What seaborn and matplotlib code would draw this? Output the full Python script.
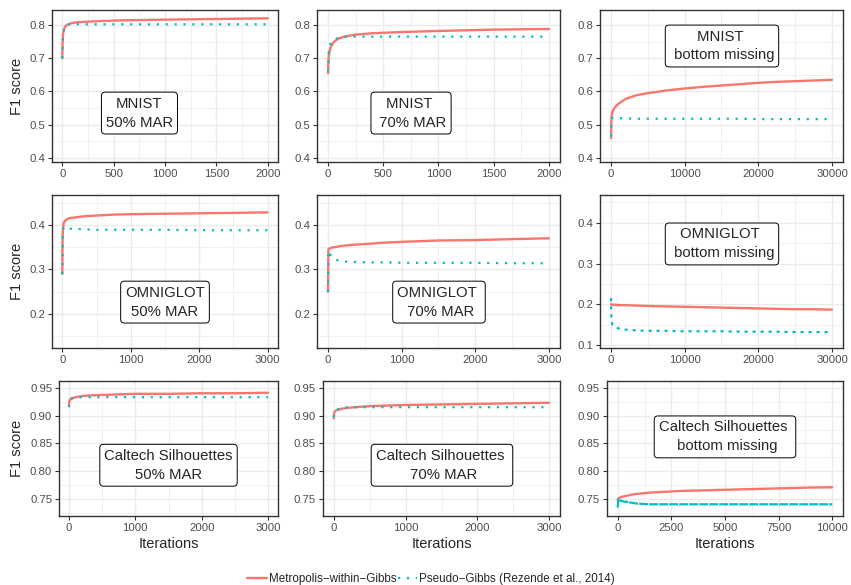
import matplotlib
matplotlib.use("Agg")
import matplotlib.pyplot as plt
from matplotlib.lines import Line2D
import seaborn as sns

# ---------------- data ----------------
method_names = ["Metropolis\u2212within\u2212Gibbs", "Pseudo\u2212Gibbs (Rezende et al., 2014)"]

# iteration grids
iters_2000 = [0, 5, 10, 20, 30, 50, 75, 100, 150, 250, 400, 600, 800, 1000, 1250, 1500, 1750, 2000]
iters_3000 = [0, 5, 10, 20, 30, 50, 75, 100, 150, 200, 300, 500, 750, 1000, 1500, 2000, 2500, 3000]
iters_30000 = [0, 50, 100, 200, 500, 1000, 2000, 3500, 5000, 7500, 10000, 12500, 15000, 17500,
               20000, 22500, 25000, 27500, 30000]
iters_10000 = [0, 25, 100, 250, 500, 750, 1000, 1500, 2000, 2500, 3000, 4000, 5000, 6000, 7000,
               7500, 8000, 9000, 10000]

# MNIST
mnist50_mwg = [0.700, 0.760, 0.778, 0.790, 0.796, 0.801, 0.804, 0.806, 0.808, 0.810, 0.812, 0.814,
               0.815, 0.816, 0.817, 0.818, 0.819, 0.820]
mnist50_pg = [0.700, 0.755, 0.775, 0.790, 0.797, 0.801, 0.802, 0.802, 0.802, 0.802, 0.802, 0.802,
              0.802, 0.802, 0.802, 0.802, 0.802, 0.802]
mnist70_mwg = [0.655, 0.700, 0.715, 0.728, 0.737, 0.748, 0.755, 0.760, 0.765, 0.771, 0.775, 0.778,
               0.780, 0.782, 0.784, 0.786, 0.787, 0.788]
mnist70_pg = [0.660, 0.715, 0.730, 0.742, 0.748, 0.754, 0.759, 0.762, 0.764, 0.765, 0.765, 0.765,
              0.765, 0.765, 0.765, 0.765, 0.765, 0.765]
mnistbm_mwg = [0.460, 0.515, 0.530, 0.540, 0.552, 0.563, 0.578, 0.589, 0.595, 0.603, 0.609, 0.614,
               0.618, 0.622, 0.626, 0.629, 0.631, 0.633, 0.635]
mnistbm_pg = [0.465, 0.515, 0.520, 0.521, 0.521, 0.520, 0.519, 0.518, 0.518, 0.518, 0.518, 0.518,
              0.518, 0.518, 0.517, 0.517, 0.517, 0.517, 0.517]

# OMNIGLOT
omni50_mwg = [0.290, 0.370, 0.392, 0.403, 0.407, 0.411, 0.413, 0.415, 0.416, 0.417, 0.419, 0.421,
              0.423, 0.424, 0.425, 0.426, 0.427, 0.428]
omni50_pg = [0.290, 0.365, 0.385, 0.394, 0.396, 0.395, 0.393, 0.392, 0.391, 0.391, 0.390, 0.389,
             0.389, 0.389, 0.389, 0.388, 0.388, 0.388]
omni70_mwg = [0.250, 0.345, 0.346, 0.347, 0.348, 0.349, 0.350, 0.350, 0.352, 0.353, 0.355, 0.357,
              0.360, 0.362, 0.365, 0.366, 0.368, 0.370]
omni70_pg = [0.250, 0.340, 0.342, 0.338, 0.334, 0.329, 0.325, 0.322, 0.320, 0.318, 0.317, 0.316,
             0.316, 0.315, 0.315, 0.315, 0.314, 0.314]
omnibm_mwg = [0.200, 0.200, 0.199, 0.199, 0.199, 0.198, 0.198, 0.197, 0.196, 0.195, 0.194, 0.193,
              0.192, 0.191, 0.190, 0.189, 0.188, 0.188, 0.187]
omnibm_pg = [0.215, 0.160, 0.155, 0.150, 0.145, 0.141, 0.138, 0.136, 0.135, 0.135, 0.134, 0.134,
             0.134, 0.133, 0.133, 0.133, 0.132, 0.132, 0.132]

# Caltech Silhouettes
caltech50_mwg = [0.919, 0.925, 0.927, 0.929, 0.930, 0.931, 0.932, 0.933, 0.934, 0.935, 0.936, 0.937,
                 0.938, 0.939, 0.939, 0.940, 0.940, 0.941]
caltech50_pg = [0.915, 0.924, 0.927, 0.929, 0.930, 0.931, 0.932, 0.932, 0.933, 0.933, 0.933, 0.933,
                0.933, 0.933, 0.933, 0.933, 0.933, 0.933]
caltech70_mwg = [0.895, 0.903, 0.906, 0.908, 0.909, 0.910, 0.911, 0.912, 0.913, 0.914, 0.915, 0.917,
                 0.918, 0.919, 0.920, 0.921, 0.922, 0.923]
caltech70_pg = [0.897, 0.904, 0.906, 0.908, 0.909, 0.911, 0.912, 0.913, 0.914, 0.915, 0.915, 0.915,
                0.915, 0.915, 0.915, 0.915, 0.915, 0.915]
caltechbm_mwg = [0.748, 0.751, 0.753, 0.755, 0.757, 0.759, 0.760, 0.762, 0.763, 0.764, 0.765, 0.766,
                 0.767, 0.768, 0.769, 0.7695, 0.770, 0.771, 0.7715]
caltechbm_pg = [0.735, 0.750, 0.748, 0.746, 0.745, 0.743, 0.742, 0.741, 0.741, 0.741, 0.741, 0.741,
                0.741, 0.741, 0.741, 0.741, 0.741, 0.741, 0.741]

# panel labels
panel_labels = [
    ["MNIST\n50% MAR", "MNIST \n 70% MAR", "MNIST \n bottom missing"],
    ["OMNIGLOT\n50% MAR", "OMNIGLOT \n 70% MAR", "OMNIGLOT \n bottom missing"],
    ["Caltech Silhouettes\n50% MAR", "Caltech Silhouettes \n 70% MAR", "Caltech Silhouettes \n bottom missing"],
]

# tick values
xticks_2000 = [0, 500, 1000, 1500, 2000]
xticks_3000 = [0, 1000, 2000, 3000]
xticks_30000 = [0, 10000, 20000, 30000]
xticks_10000 = [0, 2500, 5000, 7500, 10000]
yticks_mnist = [0.4, 0.5, 0.6, 0.7, 0.8]
yticks_omni = [0.2, 0.3, 0.4]
yticks_omni_bm = [0.1, 0.2, 0.3, 0.4]
yticks_caltech = [0.75, 0.80, 0.85, 0.90, 0.95]

# ---------------- style ----------------
sns.set_style("white")
plt.rcParams["font.family"] = ["Liberation Sans", "DejaVu Sans"]

RED = "#F8766D"
CYAN = "#00BFC4"
GRID = "#EBEBEB"
BORDER = "#333333"
TICKTXT = "#4D4D4D"

W, H = 851, 585
fig = plt.figure(figsize=(W / 100, H / 100), dpi=100)


def add_ax(left, top, right, bottom):
    return fig.add_axes([left / W, 1 - bottom / H, (right - left) / W, (bottom - top) / H])


rows_tb = [(10, 162), (195, 348), (381, 516)]
cols_lr = [[(52, 278), (317, 560), (600, 843)],
           [(52, 278), (317, 560), (600, 843)],
           [(59, 278), (323, 560), (607, 843)]]

DOT = (1, 3)
panels = [
    [(iters_2000, mnist50_mwg, mnist50_pg, xticks_2000, yticks_mnist, (-100, 2100), (0.388, 0.845), (0.387, 0.322), DOT, "{:.1f}"),
     (iters_2000, mnist70_mwg, mnist70_pg, xticks_2000, yticks_mnist, (-100, 2100), (0.388, 0.845), (0.387, 0.322), DOT, "{:.1f}"),
     (iters_30000, mnistbm_mwg, mnistbm_pg, xticks_30000, yticks_mnist, (-1500, 31500), (0.388, 0.845), (0.502, 0.763), DOT, "{:.1f}")],
    [(iters_3000, omni50_mwg, omni50_pg, xticks_3000, yticks_omni, (-150, 3150), (0.124, 0.467), (0.50, 0.30), DOT, "{:.1f}"),
     (iters_3000, omni70_mwg, omni70_pg, xticks_3000, yticks_omni, (-150, 3150), (0.124, 0.467), (0.502, 0.30), DOT, "{:.1f}"),
     (iters_30000, omnibm_mwg, omnibm_pg, xticks_30000, yticks_omni_bm, (-1500, 31500), (0.093, 0.468), (0.502, 0.68), (1.4, 2.2), "{:.1f}")],
    [(iters_3000, caltech50_mwg, caltech50_pg, xticks_3000, yticks_caltech, (-150, 3150), (0.72, 0.962), (0.50, 0.376), DOT, "{:.2f}"),
     (iters_3000, caltech70_mwg, caltech70_pg, xticks_3000, yticks_caltech, (-150, 3150), (0.72, 0.962), (0.502, 0.376), DOT, "{:.2f}"),
     (iters_10000, caltechbm_mwg, caltechbm_pg, xticks_10000, yticks_caltech, (-500, 10500), (0.72, 0.962), (0.50, 0.586), (4, 0.5), "{:.2f}")],
]


def midpoints(v):
    return [(a + b) / 2 for a, b in zip(v[:-1], v[1:])]


for r in range(3):
    for c in range(3):
        xs, mwg, pg, xt, yt, xl, yl, lab_pos, dash, yfmt = panels[r][c]
        top, bottom = rows_tb[r]
        left, right = cols_lr[r][c]
        ax = add_ax(left, top, right, bottom)
        sns.lineplot(x=xs, y=mwg, color=RED, linewidth=1.7, ax=ax, estimator=None, sort=False)
        sns.lineplot(x=xs, y=pg, color=CYAN, linewidth=1.6, ax=ax, estimator=None, sort=False,
                     linestyle=(0, dash))
        ax.set_xlim(*xl)
        ax.set_ylim(*yl)
        ax.set_xticks(xt)
        ax.set_xticklabels([str(v) for v in xt])
        ax.set_yticks(yt)
        ax.set_yticklabels([yfmt.format(v) for v in yt])
        xmin = midpoints(xt)
        ymin = midpoints(yt) + [yt[0] - (yt[1] - yt[0]) / 2, yt[-1] + (yt[1] - yt[0]) / 2]
        ymin = [m for m in ymin if yl[0] < m < yl[1]]
        ax.set_xticks(xmin, minor=True)
        ax.set_yticks(ymin, minor=True)
        ax.grid(which="major", color=GRID, linewidth=1.0)
        ax.grid(which="minor", color=GRID, linewidth=0.5)
        ax.set_axisbelow(True)
        ax.tick_params(which="major", direction="out", length=2.75, width=0.8, color=BORDER,
                       labelsize=8.2, labelcolor=TICKTXT, pad=2.2, bottom=True, left=True)
        ax.tick_params(which="minor", length=0)
        for s in ax.spines.values():
            s.set_color(BORDER)
            s.set_linewidth(1.0)
        ax.set_xlabel("Iterations" if r == 2 else "", fontsize=10.5, labelpad=3)
        ax.set_ylabel("F1 score" if c == 0 else "", fontsize=10.5, labelpad=4)
        ax.text(lab_pos[0], lab_pos[1], panel_labels[r][c], transform=ax.transAxes,
                ha="center", va="center", multialignment="center", fontsize=10.7,
                linespacing=1.45, zorder=5,
                bbox=dict(boxstyle="round,pad=0.3,rounding_size=0.25", fc="white",
                          ec="black", lw=0.7))

handles = [Line2D([], [], color=RED, linewidth=1.7),
           Line2D([], [], color=CYAN, linewidth=1.6, linestyle=(0, DOT))]
fig.legend(handles, method_names, loc="center", bbox_to_anchor=(0.5065, 1 - 579 / H), ncol=2,
           frameon=False, fontsize=8.4, handlelength=1.7, handletextpad=0.15, columnspacing=0.1,
           borderpad=0, borderaxespad=0)

fig.savefig("out.png", dpi=100)
